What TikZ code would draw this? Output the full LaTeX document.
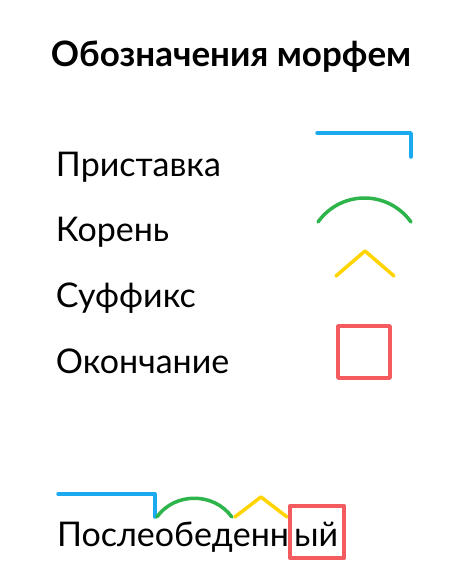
\documentclass[tikz,border=0pt]{standalone}
\usepackage{fontspec}
\setmainfont{Lato}
\usetikzlibrary{positioning}

\definecolor{prefblue}{HTML}{1BAAF0}
\definecolor{rootgreen}{HTML}{2DB44B}
\definecolor{sufyellow}{HTML}{FFD400}
\definecolor{endred}{HTML}{F45B5F}

\begin{document}
\begin{tikzpicture}[x={(1pt,0)}, y={(0,-1pt)},
    every node/.style={inner sep=0pt, outer sep=0pt},
    legend/.style={anchor=base west, font=\fontsize{34}{36}\selectfont},
    part/.style={anchor=base west, font=\fontsize{34}{36}\selectfont},
    morph/.style={line width=3.5pt, line cap=round, line join=round}]
  \useasboundingbox (0,0) rectangle (474,587);

  \node[anchor=base, font=\bfseries\fontsize{35}{37}\selectfont] (title) at (231,66) {Обозначения морфем};

  \foreach \name [count=\i] in {Приставка, Корень, Суффикс, Окончание} {
    \node[legend] (l\i) at (56, {176+65.7*(\i-1)}) {\name};
  }

  % legend marks
  \draw[morph, prefblue] (317,133) -- (411,133) -- (411,157);
  \draw[morph, rootgreen] (318,222) .. controls (341,190) and (388,190) .. (411,222);
  \draw[morph, sufyellow] (336,276) -- (365,251) -- (394,276);
  \draw[morph, endred, line cap=butt] (338,326) rectangle (390,378);

  % the word
  \node[part] (pre) at (57,546) {После};
  \node[part] (root) at (pre.base east) {обед};
  \node[part] (suf) at (root.base east) {енн};
  \node[part, xshift=5pt] (end) at (suf.base east) {ый};

  \draw[morph, prefblue] ([xshift=1pt,yshift=52pt]pre.base west) -| ([yshift=29pt]pre.base east);
  \draw[morph, rootgreen] ([xshift=2pt,yshift=29pt]root.base west)
    .. controls +(18,-25) and +(-18,-25) .. ([xshift=-1pt,yshift=29pt]root.base east);
  \draw[morph, sufyellow] ([xshift=2pt,yshift=29pt]suf.base west) -- ([yshift=49pt]suf.base) -- ([xshift=-2pt,yshift=29pt]suf.base east);
  \draw[morph, endred, line cap=butt] ([xshift=-4pt,yshift=40pt]end.base west) rectangle ([xshift=6pt,yshift=-12pt]end.base east);
\end{tikzpicture}
\end{document}
